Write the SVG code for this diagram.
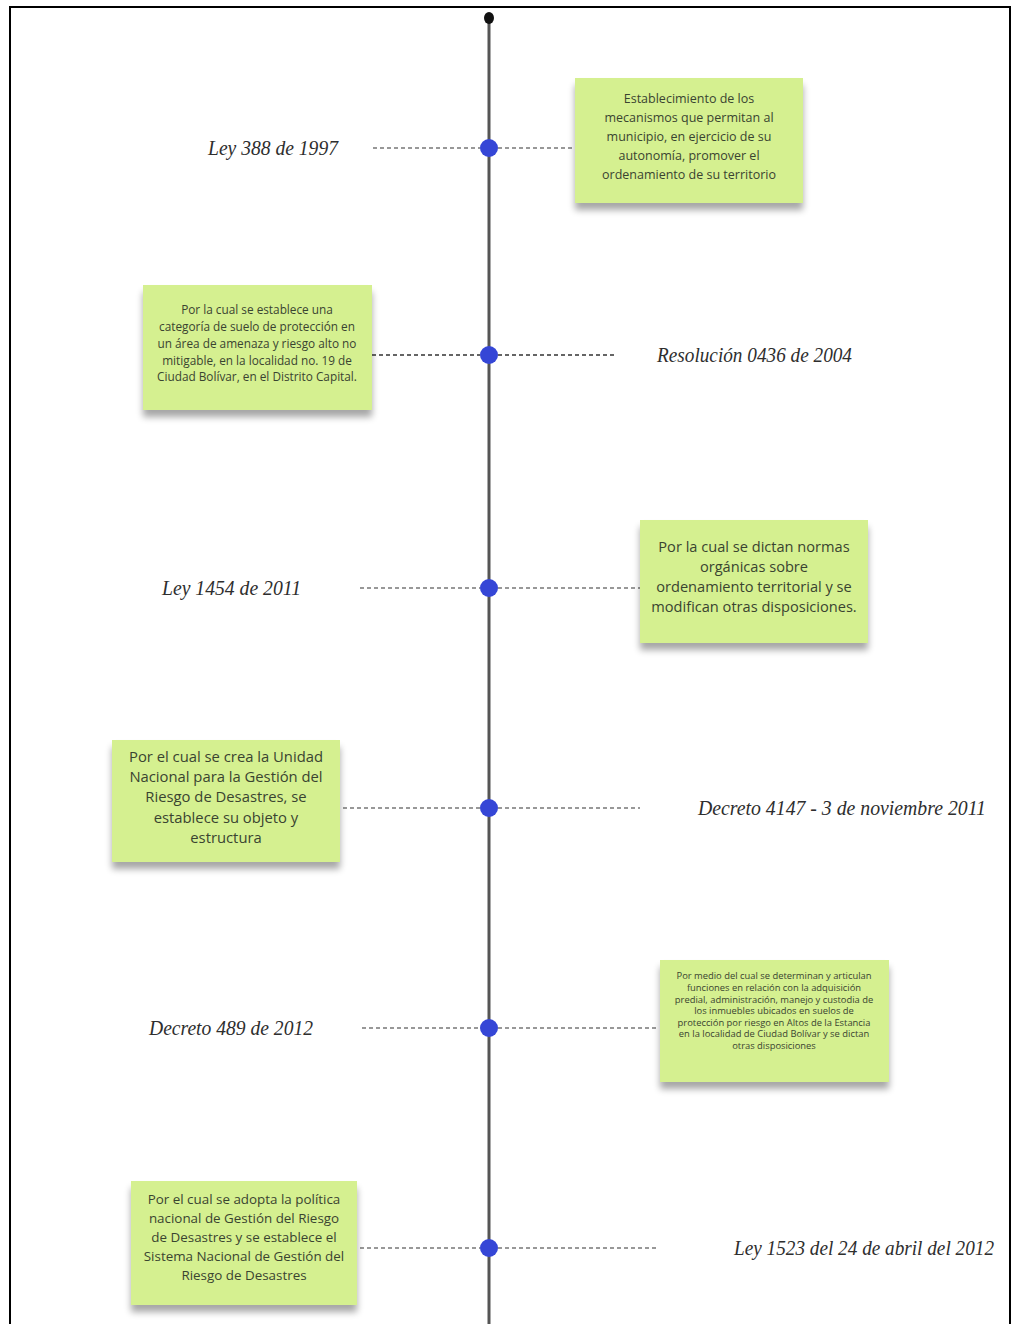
<svg xmlns="http://www.w3.org/2000/svg" width="1016" height="1324" viewBox="0 0 1016 1324">
<defs>
<filter id="sh" x="-10%" y="-10%" width="120%" height="130%">
<feGaussianBlur in="SourceAlpha" stdDeviation="3.5"/>
<feOffset dx="0" dy="7" result="b"/>
<feComponentTransfer><feFuncA type="linear" slope="0.35"/></feComponentTransfer>
<feMerge><feMergeNode/><feMergeNode in="SourceGraphic"/></feMerge>
</filter>
<style>
.note{fill:#d5f090;filter:url(#sh);}
.nt{font-family:"Open Sans","Liberation Sans",sans-serif;fill:#3a4430;text-anchor:middle;}
.lbl{font-family:"Liberation Serif",serif;font-style:italic;font-size:21px;fill:#2e2e2e;}
.dash{stroke:#777;stroke-width:1.3;stroke-dasharray:4 3;fill:none;}
.dot{fill:#3546d6;}
</style>
</defs>
<rect x="0" y="0" width="1016" height="1324" fill="#fff"/>
<rect x="10" y="7" width="1000" height="1330" fill="none" stroke="#000" stroke-width="2"/>
<g id="connectors">
<line x1="489" y1="18" x2="489" y2="1324" stroke="#555" stroke-width="3"/>
<line class="dash" x1="373" y1="148" x2="480" y2="148"/>
<line class="dash" x1="498" y1="148" x2="572" y2="148"/>
<line class="dash" x1="372" y1="355" x2="480" y2="355" style="stroke:#333"/>
<line class="dash" x1="498" y1="355" x2="617" y2="355" style="stroke:#333"/>
<line class="dash" x1="360" y1="588" x2="480" y2="588"/>
<line class="dash" x1="498" y1="588" x2="640" y2="588"/>
<line class="dash" x1="343" y1="808" x2="480" y2="808"/>
<line class="dash" x1="498" y1="808" x2="640" y2="808"/>
<line class="dash" x1="362" y1="1028" x2="480" y2="1028"/>
<line class="dash" x1="498" y1="1028" x2="658" y2="1028"/>
<line class="dash" x1="360" y1="1248" x2="480" y2="1248"/>
<line class="dash" x1="498" y1="1248" x2="656" y2="1248"/>
</g>
<g id="start"><ellipse cx="489" cy="18" rx="5" ry="6" fill="#111"/></g>
<g id="dots">
<circle class="dot" cx="489" cy="148" r="9"/>
<circle class="dot" cx="489" cy="355" r="9"/>
<circle class="dot" cx="489" cy="588" r="9"/>
<circle class="dot" cx="489" cy="808" r="9"/>
<circle class="dot" cx="489" cy="1028" r="9"/>
<circle class="dot" cx="489" cy="1248" r="9"/>
</g>
<g id="label1"><text class="lbl" x="208" y="155" textLength="130" lengthAdjust="spacingAndGlyphs">Ley 388 de 1997</text></g>
<g id="note1">
<rect class="note" x="575" y="78" width="228" height="125"/>
<text class="nt" font-size="12.5" x="689"><tspan x="689" y="103">Establecimiento de los</tspan><tspan x="689" y="122">mecanismos que permitan al</tspan><tspan x="689" y="141">municipio, en ejercicio de su</tspan><tspan x="689" y="160">autonomía, promover el</tspan><tspan x="689" y="179">ordenamiento de su territorio</tspan></text>
</g>
<g id="note2">
<rect class="note" x="143" y="285" width="229" height="125"/>
<text class="nt" font-size="11.8" x="257"><tspan x="257" y="314">Por la cual se establece una</tspan><tspan x="257" y="331">categoría de suelo de protección en</tspan><tspan x="257" y="348">un área de amenaza y riesgo alto no</tspan><tspan x="257" y="365">mitigable, en la localidad no. 19 de</tspan><tspan x="257" y="381">Ciudad Bolívar, en el Distrito Capital.</tspan></text>
</g>
<g id="label2"><text class="lbl" x="657" y="362" textLength="195" lengthAdjust="spacingAndGlyphs">Resolución 0436 de 2004</text></g>
<g id="label3"><text class="lbl" x="162" y="595" textLength="139" lengthAdjust="spacingAndGlyphs">Ley 1454 de 2011</text></g>
<g id="note3">
<rect class="note" x="640" y="520" width="228" height="123"/>
<text class="nt" font-size="14.6" x="754"><tspan x="754" y="552">Por la cual se dictan normas</tspan><tspan x="754" y="572">orgánicas sobre</tspan><tspan x="754" y="592">ordenamiento territorial y se</tspan><tspan x="754" y="612">modifican otras disposiciones.</tspan></text>
</g>
<g id="note4">
<rect class="note" x="112" y="740" width="228" height="122"/>
<text class="nt" font-size="14.8" x="226"><tspan x="226" y="762">Por el cual se crea la Unidad</tspan><tspan x="226" y="782">Nacional para la Gestión del</tspan><tspan x="226" y="802">Riesgo de Desastres, se</tspan><tspan x="226" y="823">establece su objeto y</tspan><tspan x="226" y="843">estructura</tspan></text>
</g>
<g id="label4"><text class="lbl" x="698" y="815" textLength="288" lengthAdjust="spacingAndGlyphs">Decreto 4147 - 3 de noviembre 2011</text></g>
<g id="label5"><text class="lbl" x="149" y="1035" textLength="164" lengthAdjust="spacingAndGlyphs">Decreto 489 de 2012</text></g>
<g id="note5">
<rect class="note" x="660" y="960" width="229" height="122"/>
<text class="nt" font-size="9.4" x="774"><tspan x="774" y="979">Por medio del cual se determinan y articulan</tspan><tspan x="774" y="991">funciones en relación con la adquisición</tspan><tspan x="774" y="1003">predial, administración, manejo y custodia de</tspan><tspan x="774" y="1014">los inmuebles ubicados en suelos de</tspan><tspan x="774" y="1026">protección por riesgo en Altos de la Estancia</tspan><tspan x="774" y="1037">en la localidad de Ciudad Bolívar y se dictan</tspan><tspan x="774" y="1049">otras disposiciones</tspan></text>
</g>
<g id="note6">
<rect class="note" x="131" y="1181" width="226" height="124"/>
<text class="nt" font-size="13.4" x="244"><tspan x="244" y="1204">Por el cual se adopta la política</tspan><tspan x="244" y="1223">nacional de Gestión del Riesgo</tspan><tspan x="244" y="1242">de Desastres y se establece el</tspan><tspan x="244" y="1261">Sistema Nacional de Gestión del</tspan><tspan x="244" y="1280">Riesgo de Desastres</tspan></text>
</g>
<g id="label6"><text class="lbl" x="734" y="1255" textLength="260" lengthAdjust="spacingAndGlyphs">Ley 1523 del 24 de abril del 2012</text></g>
</svg>
